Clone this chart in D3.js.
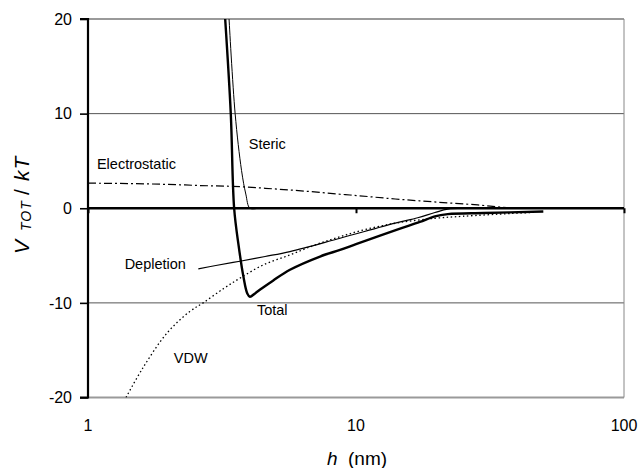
<!DOCTYPE html>
<html>
<head>
<meta charset="utf-8">
<script src="https://cdn.jsdelivr.net/npm/d3@7"></script>
<style>
  html, body { margin: 0; padding: 0; background: #fff; }
  svg { display: block; font-family: "Liberation Sans", Arial, sans-serif; }
</style>
</head>
<body>
<svg id="chart" width="643" height="468"></svg>
<script>
// Interaction potentials vs separation h (nm), in units of kT
const totalH   = [3.25, 3.41, 3.51, 3.65, 3.8, 3.93, 4.02, 4.2, 4.46, 4.9, 5.67, 7.34, 8.72, 10, 12.29, 14.6, 17.3, 19.7, 22, 30, 50];
const totalV   = [20, 10, 0, -4, -7.2, -9.0, -9.35, -9.0, -8.45, -7.65, -6.5, -5.1, -4.4, -3.8, -2.9, -2.15, -1.45, -0.85, -0.62, -0.5, -0.35];

const stericH  = [3.36, 3.54, 3.74, 3.88, 4.02, 4.3];
const stericV  = [20, 10, 4, 1.5, 0, 0];

const electroH = [1, 1.5, 2.3, 2.62, 3.69, 4.58, 6.5, 8.72, 9.5, 14, 20, 28.5, 38, 50];
const electroV = [2.65, 2.6, 2.46, 2.4, 2.28, 2.11, 1.8, 1.48, 1.4, 0.98, 0.65, 0.35, 0.05, 0];

const deplH    = [2.58, 3.0, 3.69, 4.58, 5.67, 8.72, 14, 17, 19.7, 22, 25];
const deplV    = [-6.4, -6.05, -5.6, -5.1, -4.58, -3.17, -1.58, -1.0, -0.45, -0.1, 0];

const vdwH     = [1.386, 1.6, 1.97, 2.4, 2.69, 3.2, 3.69, 4.5, 5.67, 7, 8.72, 11, 14.6, 19.7, 25, 38, 45];
const vdwV     = [-20, -16.9, -13.2, -10.9, -10, -8.5, -7.39, -6.0, -4.93, -3.9, -3.0, -2.2, -1.5, -1.06, -0.85, -0.55, -0.45];

const xTicks = [1, 10, 100];
const yTicks = [-20, -10, 0, 10, 20];

const seriesLabels = [
  { text: "Steric",        h: 3.98, v: 6.3 },
  { text: "Electrostatic", h: 1.08, v: 4.2 },
  { text: "Depletion",     h: 1.37, v: -6.4 },
  { text: "Total",         h: 4.27, v: -11.3 },
  { text: "VDW",           h: 2.09, v: -16.35 }
];

const svg = d3.select("#chart");
const x = d3.scaleLog().domain([1, 100]).range([88, 624]);
const y = d3.scaleLinear().domain([-20, 20]).range([397.5, 19]);

// plot-area clip
svg.append("defs").append("clipPath").attr("id", "plot")
  .append("rect").attr("x", x(1)).attr("y", y(20))
  .attr("width", x(100) - x(1)).attr("height", y(-20) - y(20));

// horizontal grid lines
const gridColor = { "20": "#9a9a9a", "10": "#555", "-10": "#555", "-20": "#9a9a9a" };
const gridWidth = { "20": 2, "10": 1, "-10": 1, "-20": 2 };
svg.append("g").selectAll("line")
  .data(yTicks.filter(d => d !== 0))
  .join("line")
  .attr("x1", x(1)).attr("x2", x(100))
  .attr("y1", d => y(d)).attr("y2", d => y(d))
  .attr("stroke", d => gridColor[d]).attr("stroke-width", d => gridWidth[d]);

// right frame edge
svg.append("line")
  .attr("x1", x(100)).attr("x2", x(100)).attr("y1", y(20)).attr("y2", y(-20))
  .attr("stroke", "#888").attr("stroke-width", 1);

// curves
const zipPts = (hs, vs) => hs.map((h, i) => [h, vs[i]]);
const smooth = d3.line().x(d => x(d[0])).y(d => y(d[1])).curve(d3.curveCatmullRom.alpha(0.5));
const mono = d3.line().x(d => x(d[0])).y(d => y(d[1])).curve(d3.curveMonotoneX);

const curves = svg.append("g").attr("clip-path", "url(#plot)").attr("fill", "none").attr("stroke", "#000");
curves.append("path").attr("d", mono(zipPts(electroH, electroV)))
  .attr("stroke-width", 1.2).attr("stroke-dasharray", "8,3,2,3");
curves.append("path").attr("d", smooth(zipPts(vdwH, vdwV)))
  .attr("stroke-width", 1.3).attr("stroke-dasharray", "1.5,2.6");
curves.append("path").attr("d", smooth(zipPts(deplH, deplV)))
  .attr("stroke-width", 1.2);
curves.append("path").attr("d", smooth(zipPts(stericH, stericV)))
  .attr("stroke-width", 1);
curves.append("path").attr("d", smooth(zipPts(totalH, totalV)))
  .attr("stroke-width", 2.4).attr("stroke-linejoin", "round");

// y axis (left)
const yAxis = svg.append("g").attr("transform", `translate(${x(1)},0)`)
  .call(d3.axisLeft(y).tickValues(yTicks).tickSize(8).tickPadding(8).tickFormat(d => String(d)));
yAxis.select(".domain").attr("stroke-width", 2.2).attr("d", `M-8,${y(20)}H0V${y(-20)}H-8`);
yAxis.selectAll(".tick line").attr("stroke-width", 1.6);
yAxis.selectAll(".tick text").attr("font-size", 16).attr("fill", "#000")
  .attr("font-family", "'Liberation Sans', Arial, sans-serif");

// x axis along V = 0
const xAxis = svg.append("g").attr("transform", `translate(0,${y(0)})`)
  .call(d3.axisBottom(x).tickValues(xTicks).tickSize(5).tickFormat(""));
xAxis.select(".domain").attr("stroke-width", 2.6).attr("d", `M${x(1)},0H${x(100)}`);
xAxis.selectAll(".tick line").attr("stroke-width", 2);

// x tick labels below the frame
svg.append("g").selectAll("text").data(xTicks).join("text")
  .attr("x", d => x(d)).attr("y", 431)
  .attr("text-anchor", "middle").attr("font-size", 16)
  .text(d => String(d));

// series labels
svg.append("g").selectAll("text").data(seriesLabels).join("text")
  .attr("x", d => x(d.h)).attr("y", d => y(d.v))
  .attr("font-size", 14.5)
  .text(d => d.text);

// y axis title, rotated
const yTitle = svg.append("text")
  .attr("transform", "translate(29,0) rotate(-90)")
  .attr("font-size", 21).attr("font-style", "italic");
yTitle.append("tspan").attr("x", -254).text("V");
yTitle.append("tspan").attr("x", -231).attr("dy", 2).attr("font-size", 14).attr("letter-spacing", 1).text("TOT");
yTitle.append("tspan").attr("x", -195).attr("dy", -2).attr("font-style", "normal").text("/");
yTitle.append("tspan").attr("x", -181).attr("letter-spacing", 1).text("kT");

const xTitle = svg.append("text")
  .attr("x", 357).attr("y", 465).attr("text-anchor", "middle").attr("font-size", 19);
xTitle.append("tspan").attr("font-style", "italic").text("h");
xTitle.append("tspan").text("\u00a0 (nm)");
</script>
</body>
</html>
